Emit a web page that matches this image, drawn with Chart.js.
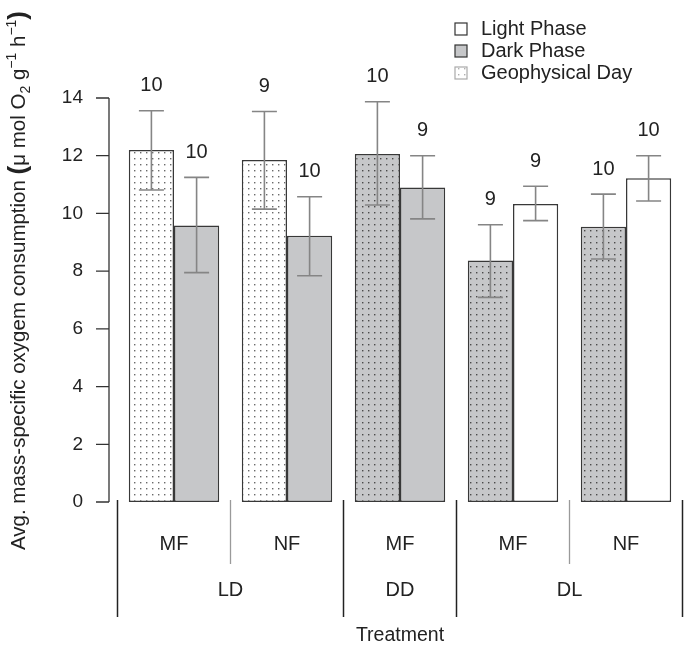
<!DOCTYPE html>
<html>
<head>
<meta charset="utf-8">
<script src="https://cdn.jsdelivr.net/npm/chart.js@4.4.0/dist/chart.umd.min.js"></script>
<style>
  html, body { margin: 0; padding: 0; background: #fff; }
  #wrap { width: 684px; height: 645px; position: relative; }
</style>
</head>
<body>
<div id="wrap"><canvas id="chart"></canvas></div>
<script>
const subgroups = ['MF', 'NF', 'MF', 'MF', 'NF']
const treatments = ['LD', 'DD', 'DL']
const treatmentSpans = [2, 1, 2]

// first bar of each pair
const firstPhase = ['geo', 'geo', 'geoDark', 'geoDark', 'geoDark']
const firstMean = [12.2, 11.85, 12.06, 8.37, 9.54]
const firstLow = [10.81, 10.15, 10.29, 7.09, 8.42]
const firstHigh = [13.56, 13.53, 13.87, 9.61, 10.67]
const firstN = [10, 9, 10, 9, 10]

// second bar of each pair
const secondPhase = ['dark', 'dark', 'dark', 'light', 'light']
const secondMean = [9.58, 9.23, 10.9, 10.33, 11.22]
const secondLow = [7.95, 7.84, 9.81, 9.75, 10.43]
const secondHigh = [11.25, 10.58, 12.0, 10.94, 12.0]
const secondN = [10, 10, 9, 9, 10]

const legendItems = [['light', 'Light Phase'], ['dark', 'Dark Phase'], ['geoLegend', 'Geophysical Day']]

const FONT = 'Liberation Sans, Arial, sans-serif'
const GREY = '#c6c7c9'

function dots(bg, dot) {
    const c = document.createElement('canvas')
    c.width = 6
    c.height = 6
    const g = c.getContext('2d')
    g.fillStyle = bg
    g.fillRect(0, 0, 6, 6)
    g.fillStyle = dot
    g.fillRect(2, 2, 1.4, 1.4)
    return g.createPattern(c, 'repeat')
}

const fills = {
    geo: dots('#ffffff', '#6a6a6a'),
    geoDark: dots(GREY, '#4a4a4a'),
    geoLegend: dots('#ffffff', '#b0b0b0'),
    dark: GREY,
    light: '#ffffff',
}

const decor = {
    id: 'decor',
    afterDatasetsDraw(chart) {
        const ctx = chart.ctx
        const y = chart.scales.y
        const sets = [[firstLow, firstHigh, firstN], [secondLow, secondHigh, secondN]]
        ctx.save()
        sets.forEach(([lo, hi, n], di) => {
            chart.getDatasetMeta(di).data.forEach((bar, i) => {
                const x = bar.x
                const yHi = y.getPixelForValue(hi[i])
                const yLo = y.getPixelForValue(lo[i])
                ctx.strokeStyle = '#858585'
                ctx.lineWidth = 1.6
                ctx.beginPath()
                ctx.moveTo(x, yLo); ctx.lineTo(x, yHi)
                ctx.moveTo(x - 12.5, yLo); ctx.lineTo(x + 12.5, yLo)
                ctx.moveTo(x - 12.5, yHi); ctx.lineTo(x + 12.5, yHi)
                ctx.stroke()
                ctx.fillStyle = '#222'
                ctx.font = '20px ' + FONT
                ctx.textAlign = 'center'
                ctx.textBaseline = 'middle'
                ctx.fillText(String(n[i]), x, yHi - 25)
            })
        })
        ctx.restore()
    },
    afterDraw(chart) {
        const ctx = chart.ctx
        const area = chart.chartArea
        const y = chart.scales.y
        const xs = chart.scales.x
        ctx.save()

        // y axis line and ticks, offset from the plot like in R
        const ax = area.left - 8.5
        ctx.strokeStyle = '#333'
        ctx.lineWidth = 1.3
        ctx.beginPath()
        ctx.moveTo(ax, y.getPixelForValue(0))
        ctx.lineTo(ax, y.getPixelForValue(14))
        y.ticks.forEach(t => {
            const py = y.getPixelForValue(t.value)
            ctx.moveTo(ax - 13, py)
            ctx.lineTo(ax, py)
        })
        ctx.stroke()

        // group separators under the bars
        const w = xs.width / subgroups.length
        const edge = i => xs.left + i * w
        const longEdges = [0]
        let acc = 0
        treatmentSpans.forEach(s => { acc += s; longEdges.push(acc) })
        for (let i = 0; i <= subgroups.length; i++) {
            const isLong = longEdges.includes(i)
            ctx.strokeStyle = isLong ? '#222' : '#9a9a9a'
            ctx.lineWidth = isLong ? 1.5 : 1.3
            ctx.beginPath()
            ctx.moveTo(edge(i), area.bottom - 2)
            ctx.lineTo(edge(i), isLong ? 617 : 564)
            ctx.stroke()
        }

        // treatment labels
        ctx.fillStyle = '#222'
        ctx.font = '20px ' + FONT
        ctx.textAlign = 'center'
        ctx.textBaseline = 'middle'
        acc = 0
        treatments.forEach((t, k) => {
            const cx = (edge(acc) + edge(acc + treatmentSpans[k])) / 2
            ctx.fillText(t, cx, 590)
            acc += treatmentSpans[k]
        })

        // legend
        legendItems.forEach(([key, label], k) => {
            const cy = 29 + k * 22
            ctx.fillStyle = fills[key]
            ctx.fillRect(455, cy - 6, 12, 12)
            ctx.strokeStyle = key === 'geoLegend' ? '#aaa' : '#333'
            ctx.lineWidth = 1.2
            ctx.strokeRect(455, cy - 6, 12, 12)
            ctx.fillStyle = '#222'
            ctx.font = '20px ' + FONT
            ctx.textAlign = 'left'
            ctx.textBaseline = 'middle'
            ctx.fillText(label, 481, cy)
        })

        // rotated y title with sub/superscripts
        ctx.translate(25, 550)
        ctx.rotate(-Math.PI / 2)
        ctx.textAlign = 'left'
        ctx.textBaseline = 'alphabetic'
        ctx.fillStyle = '#222'
        const parts = [
            ['Avg. mass-specific oxygem consumption ', 20.5, 0],
            ['(', 26, 1],
            ['\u03bc mol O', 20.5, 0],
            ['2', 14, 5],
            [' g', 20.5, 0],
            ['\u22121', 14, -9],
            [' h', 20.5, 0],
            ['\u22121', 14, -9],
            [')', 26, 1],
        ]
        let cx = 0
        parts.forEach(([txt, size, dy]) => {
            ctx.font = (size > 22 ? 'bold ' : '') + size + 'px ' + FONT
            ctx.fillText(txt, cx, dy)
            cx += ctx.measureText(txt).width
        })
        ctx.restore()
    }
}

const ctx = document.getElementById('chart').getContext('2d')

new Chart(ctx, {
    type: 'bar',
    data: {
        labels: subgroups,
        datasets: [{
            data: firstMean,
            backgroundColor: firstPhase.map(p => fills[p]),
            borderColor: '#383838',
            borderWidth: 1.5,
            borderSkipped: false,
        }, {
            data: secondMean,
            backgroundColor: secondPhase.map(p => fills[p]),
            borderColor: '#383838',
            borderWidth: 1.5,
            borderSkipped: false,
        }]
    },
    options: {
        responsive: true,
        maintainAspectRatio: false,
        animation: false,
        events: [],
        categoryPercentage: 0.8,
        barPercentage: 1.0,
        layout: { padding: { top: 98, right: 1.5, left: 0, bottom: 0 } },
        plugins: {
            legend: { display: false },
            tooltip: { enabled: false },
        },
        scales: {
            x: {
                grid: { display: false, drawTicks: false },
                border: { display: false },
                ticks: { color: '#222', font: { family: FONT, size: 20 }, padding: 30 },
                title: {
                    display: true,
                    text: 'Treatment',
                    color: '#222',
                    font: { family: FONT, size: 19.5, lineHeight: 1 },
                    padding: { top: 0, bottom: 0 },
                },
                afterFit: s => { s.height = 143 },
            },
            y: {
                min: 0,
                max: 14,
                grid: { display: false, drawTicks: false },
                border: { display: false },
                ticks: { stepSize: 2, color: '#222', font: { family: FONT, size: 19 }, padding: 34.5 },
                afterFit: s => { s.width = 117.5 },
            }
        }
    },
    plugins: [decor]
})
</script>
</body>
</html>
